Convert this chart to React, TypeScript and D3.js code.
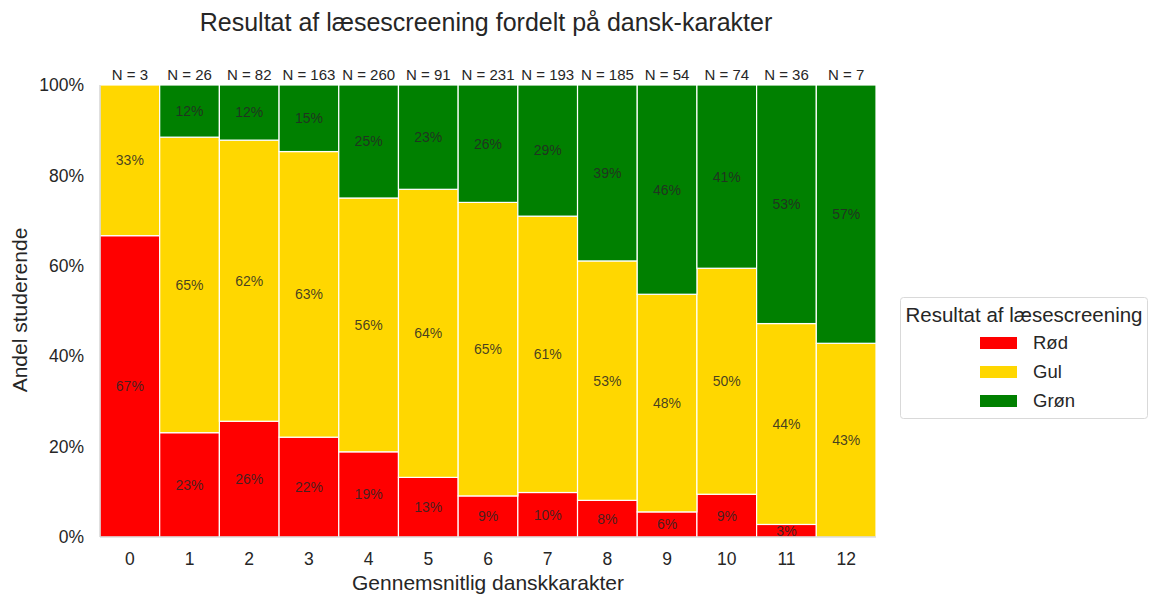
import React from 'react';
import * as d3 from 'd3';

// counts per grade
const grades = ['0', '1', '2', '3', '4', '5', '6', '7', '8', '9', '10', '11', '12'];
const redCounts = [2, 6, 21, 36, 49, 12, 21, 19, 15, 3, 7, 1, 0];
const yellowCounts = [1, 17, 51, 103, 146, 58, 150, 118, 98, 26, 37, 16, 3];
const greenCounts = [0, 3, 10, 24, 65, 21, 60, 56, 72, 25, 30, 19, 4];
const groups = ['Rød', 'Gul', 'Grøn'];
const yTicks = [0, 0.2, 0.4, 0.6, 0.8, 1];

const colors = ['#ff0000', '#ffd700', '#008000'];
const font = '"Liberation Sans", Arial, sans-serif';
const ink = '#262626';

const margin = { top: 85, left: 100, right: 280, bottom: 59 };
const W = 1156;
const H = 596;

const App = () => {
  const innerW = W - margin.left - margin.right;
  const innerH = H - margin.top - margin.bottom;

  const x = d3.scaleBand().domain(grades).range([0, innerW]).padding(0);
  const y = d3.scaleLinear().domain([0, 1]).range([innerH, 0]);

  const rows = grades.map((g, i) => {
    const total = redCounts[i] + yellowCounts[i] + greenCounts[i];
    return {
      grade: g,
      total,
      Rød: redCounts[i] / total,
      Gul: yellowCounts[i] / total,
      Grøn: greenCounts[i] / total,
    };
  });

  const series = d3.stack<any>().keys(groups)(rows);
  const fmt = d3.format('.0%');

  return (
    <svg width={W} height={H} style={{ position: 'absolute', left: 0, top: 0 }} fontFamily={font}>
      <rect width={W} height={H} fill="#fff" />
      <text x={486} y={31} textAnchor="middle" fontSize={25} fill={ink}>
        Resultat af læsescreening fordelt på dansk-karakter
      </text>
      <g transform={`translate(${margin.left},${margin.top})`}>
        {series.map((s, si) =>
          s.map((d, i) => (
            <rect
              key={`${si}-${i}`}
              x={x(grades[i])}
              y={y(d[1])}
              width={x.bandwidth()}
              height={y(d[0]) - y(d[1])}
              fill={colors[si]}
              stroke="#fff"
              strokeWidth={1.2}
            />
          ))
        )}
        {series.map((s, si) =>
          s.map((d, i) => {
            const v = d[1] - d[0];
            if (v <= 0) return null;
            return (
              <text
                key={`l${si}-${i}`}
                x={(x(grades[i]) as number) + x.bandwidth() / 2}
                y={y((d[0] + d[1]) / 2)}
                dy="0.35em"
                textAnchor="middle"
                fontSize={14}
                fill={ink}
                fillOpacity={0.85}
              >
                {fmt(v)}
              </text>
            );
          })
        )}
        {rows.map((r) => (
          <text
            key={`n${r.grade}`}
            x={(x(r.grade) as number) + x.bandwidth() / 2}
            y={-5.5}
            textAnchor="middle"
            fontSize={15}
            fill={ink}
          >
            {`N = ${r.total}`}
          </text>
        ))}
        <line x1={0} x2={0} y1={0} y2={innerH} stroke="#cccccc" strokeWidth={1.2} />
        <line x1={0} x2={innerW} y1={innerH} y2={innerH} stroke="#cccccc" strokeWidth={1.2} />
        {yTicks.map((t) => (
          <text key={`y${t}`} x={-16} y={y(t)} dy="0.35em" textAnchor="end" fontSize={17.5} fill={ink}>
            {fmt(t)}
          </text>
        ))}
        {grades.map((g) => (
          <text
            key={`x${g}`}
            x={(x(g) as number) + x.bandwidth() / 2}
            y={innerH + 28}
            textAnchor="middle"
            fontSize={17.5}
            fill={ink}
          >
            {g}
          </text>
        ))}
        <text x={innerW / 2} y={innerH + 53} textAnchor="middle" fontSize={21} fill={ink}>
          Gennemsnitlig danskkarakter
        </text>
        <text
          transform={`translate(${-73},${innerH / 2 - 1}) rotate(-90)`}
          textAnchor="middle"
          fontSize={21}
          fill={ink}
        >
          Andel studerende
        </text>
      </g>
      <g transform="translate(900,297)">
        <rect x={0.5} y={0.5} width={247} height={121} rx={3} fill="#fff" stroke="#d9d9d9" />
        <text x={124} y={25} textAnchor="middle" fontSize={20.5} fill={ink}>
          Resultat af læsescreening
        </text>
        {groups.map((g, i) => (
          <g key={g} transform={`translate(0,${46 + i * 29})`}>
            <rect x={80} y={-6} width={37} height={12} fill={colors[i]} />
            <text x={133} y={0} dy="0.35em" fontSize={18.5} fill={ink}>
              {g}
            </text>
          </g>
        ))}
      </g>
    </svg>
  );
};

export default App;
